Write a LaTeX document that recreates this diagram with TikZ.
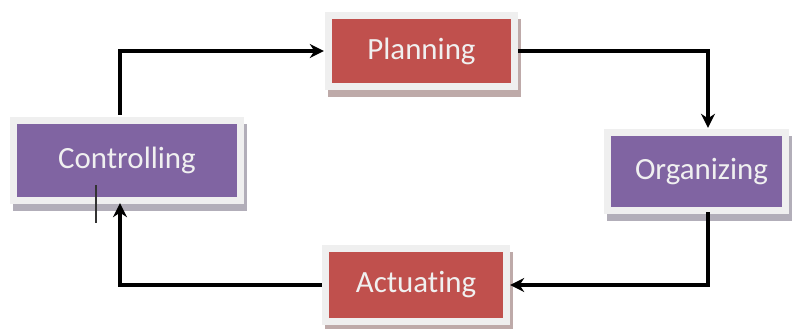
\documentclass[tikz,border=0pt]{standalone}
\usepackage{fontspec}
\setmainfont{Carlito}[Ligatures=NoCommon]
\usetikzlibrary{arrows.meta,backgrounds}
\definecolor{stagered}{HTML}{C0504D}
\definecolor{stagepurple}{HTML}{8064A2}
\definecolor{framegray}{HTML}{EFEFEF}
\tikzset{
  stage/.style={fill=#1, text=white!94!black, inner sep=0pt,
    font=\fontsize{31}{36}\selectfont},
  flow/.style={line width=3.5bp, -{Stealth[length=14bp,width=14bp]}}
}
\begin{document}
\begin{tikzpicture}[x=1bp,y=-1bp]
                \useasboundingbox (0,0) rectangle (792,328);

                % Etapas
                \node[stage=stagered, minimum width=179bp, minimum height=64bp] (plan) at (421.5,51) {Planning};
                \node[stage=stagepurple, minimum width=220bp, minimum height=73bp] (ctrl) at (127,160.5) {Controlling};
                \node[stage=stagepurple, minimum width=171bp, minimum height=71bp, text width=171bp, align=center] (org) at (696.5,171.5) {\hspace*{10bp}Organizing};
                \node[stage=stagered, minimum width=174bp, minimum height=66bp] (act) at (416,285) {Actuating};

                % Marcos y sombras
                \begin{scope}[on background layer]
                \foreach \n/\c in {plan/stagered, ctrl/stagepurple, org/stagepurple, act/stagered}{
                    \fill[\c!30!gray!60] ([shift={(-4,14)}]\n.south west) rectangle ([shift={(10,0)}]\n.north east);
                    \fill[framegray] ([shift={(-7,7)}]\n.south west) rectangle ([shift={(7,-7)}]\n.north east);
                }
                \end{scope}

                % Flechas
                \draw[flow] ([xshift=-7bp,yshift=9bp]ctrl.north) |- ([xshift=-8bp]plan.west);
                \draw[flow] ([xshift=7bp]plan.east) -| ([xshift=11.5bp,yshift=8bp]org.north);
                \draw[flow] ([xshift=11.5bp,yshift=-5bp]org.south) |- ([xshift=7bp]act.east);
                \draw[flow] ([xshift=-7bp]act.west) -| ([xshift=-7bp,yshift=-6bp]ctrl.south);

                \draw[line width=1.2bp, black!80] (96,185) -- (96,223);
            \end{tikzpicture}
\end{document}
